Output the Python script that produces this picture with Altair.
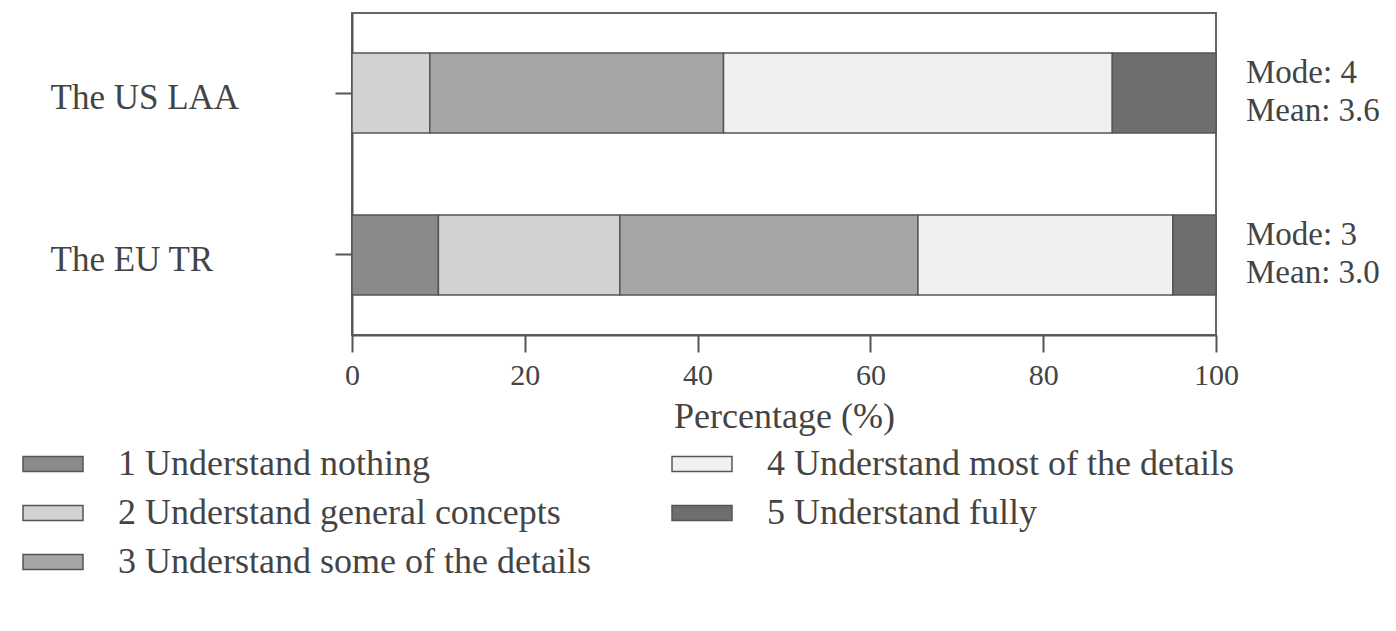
import altair as alt
import pandas as pd

groups = ["The US LAA", "The EU TR"]
levels = [1, 2, 3, 4, 5]
level_labels = [
    "1 Understand nothing",
    "2 Understand general concepts",
    "3 Understand some of the details",
    "4 Understand most of the details",
    "5 Understand fully",
]
us_pct = [0, 9, 34, 45, 12]
eu_pct = [10, 21, 34.5, 29.5, 5]
modes = ["4", "3"]
means = ["3.6", "3.0"]
fills = ["#8a8a8a", "#d2d2d2", "#a6a6a6", "#f0f0f0", "#6e6e6e"]

rows = []
for g, vals in zip(groups, [us_pct, eu_pct]):
    for lv, lab, v in zip(levels, level_labels, vals):
        rows.append({"group": g, "level": lv, "label": lab, "pct": v})
df = pd.DataFrame(rows)

ann = pd.DataFrame({
    "group": groups,
    "text": [f"Mode: {m}\nMean: {mu}" for m, mu in zip(modes, means)],
    "x": [100, 100],
})

FONT = "Liberation Serif"
TXT = "#444444"
LINE = "#555555"

yscale = alt.Scale(domain=groups, paddingInner=0.506, paddingOuter=0.247)

bars = alt.Chart(df).mark_bar(stroke=LINE, strokeWidth=1.5).encode(
    x=alt.X("pct:Q", stack="zero",
            scale=alt.Scale(domain=[0, 100], nice=False),
            axis=alt.Axis(title="Percentage (%)", values=[0, 20, 40, 60, 80, 100],
                          tickSize=17, labelPadding=8, titlePadding=9,
                          labelFlush=False,
                          labelFontSize=30, titleFontSize=36, grid=False)),
    y=alt.Y("group:N", scale=yscale, sort=groups,
            axis=alt.Axis(title=None, tickSize=17, labelAlign="left",
                          labelPadding=285, labelFontSize=35, labelLimit=400,
                          labelOffset=5)),
    color=alt.Color("label:N",
                    scale=alt.Scale(domain=level_labels, range=fills),
                    legend=alt.Legend(title=None, orient="none", legendX=-330, legendY=420,
                                      columns=2, columnPadding=78, rowPadding=-3,
                                      symbolType="M-1,-0.25H1V0.25H-1Z", symbolSize=3600,
                                      symbolStrokeColor=LINE, symbolStrokeWidth=1.5,
                                      labelFontSize=36, labelOffset=34, labelLimit=700,
                                      labelFont=FONT, labelColor=TXT)),
    order=alt.Order("level:Q", sort="ascending"),
)

texts = alt.Chart(ann).mark_text(
    align="left", baseline="middle", dx=30, dy=-20, lineBreak="\n", lineHeight=38,
    font=FONT, fontSize=33, color=TXT
).encode(
    x=alt.X("x:Q"),
    y=alt.Y("group:N", scale=yscale, sort=groups),
    text="text:N",
)

chart = alt.layer(bars, texts).properties(
    width=864, height=322,
    autosize=alt.AutoSizeParams(type="none"),
    padding={"left": 344, "top": 5, "right": 170, "bottom": 280},
).configure_view(
    stroke="#666666", strokeWidth=2
).configure_axis(
    domainColor=LINE, domainWidth=2, tickColor=LINE, tickWidth=2,
    labelFont=FONT, titleFont=FONT, labelColor=TXT, titleColor=TXT,
    titleFontWeight="normal"
)

chart.save("out.html", embed_options={"renderer": "svg", "actions": False})
